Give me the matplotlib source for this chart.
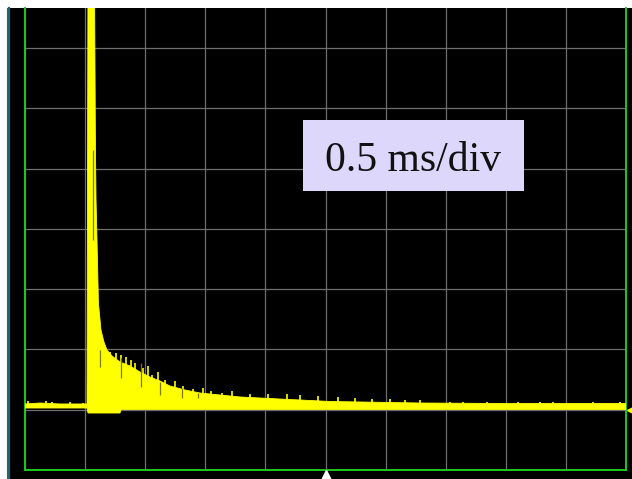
import matplotlib
matplotlib.use('Agg')
import matplotlib.pyplot as plt
from matplotlib.patches import Rectangle
from matplotlib.lines import Line2D

W, H = 632, 479

# time in ms (0.5 ms/div, 10 div), level in divisions (8 div, top is cut off)
upper_t = [0.000, 0.125, 0.291, 0.516, 0.524, 0.578, 0.586, 0.591, 0.599,
           0.611, 0.632, 0.657, 0.682, 0.724, 0.790, 0.874, 0.957, 1.040, 1.123,
           1.206, 1.331, 1.456, 1.622, 1.789, 1.955, 2.121, 2.288, 2.537, 2.787,
           3.286, 3.952, 5.000]
upper_v = [-2.905, -2.889, -2.905, -2.905, 4.200, 4.200, 1.357, 0.478, -0.186,
           -1.231, -1.678, -1.877, -2.010, -2.109, -2.209, -2.275, -2.375, -2.458, -2.524,
           -2.607, -2.673, -2.723, -2.756, -2.789, -2.806, -2.823, -2.839, -2.864, -2.872,
           -2.889, -2.897, -2.897]
lower_t = [0.000, 0.516, 0.524, 0.790, 0.800, 5.000]
lower_v = [-2.972, -2.972, -3.055, -3.055, -2.997, -2.997]

# noise spikes above the envelope
spike_t = [0.025, 0.175, 0.225, 0.374, 0.483, 0.657, 0.707, 0.757, 0.799, 0.840,
           0.882, 0.915, 0.982, 1.023, 1.057, 1.107, 1.165, 1.248, 1.314, 1.398,
           1.481, 1.547, 1.639, 1.722, 1.872, 2.022, 2.180, 2.288, 2.438, 2.604,
           2.745, 2.887, 3.037, 3.161, 3.286, 3.536, 3.644, 3.844, 4.101, 4.285,
           4.393, 4.725, 4.950]
spike_v = [-2.856, -2.856, -2.872, -2.872, -2.889, -1.977, -2.043, -2.060, -2.093, -2.126,
           -2.176, -2.226, -2.308, -2.275, -2.425, -2.375, -2.507, -2.524, -2.607, -2.657,
           -2.640, -2.690, -2.723, -2.690, -2.740, -2.740, -2.740, -2.756, -2.773, -2.789,
           -2.798, -2.823, -2.823, -2.839, -2.839, -2.864, -2.864, -2.864, -2.864, -2.864,
           -2.864, -2.864, -2.864]

# darker gaps inside the trace
gap_t = [0.562, 0.624, 0.799, 0.965, 1.123, 1.306, 1.439]
gap_lo = [-0.186, -2.292, -2.474, -2.624, -2.756, -2.806, -2.806]
gap_hi = [1.307, -2.010, -2.143, -2.226, -2.541, -2.640, -2.723]

fig = plt.figure(figsize=(W / 100, H / 100), dpi=100)
fig.patch.set_facecolor('white')

# black screen area and left edge strips
fig.add_artist(Rectangle((7 / W, 0), (W - 7) / W, (H - 8) / H,
                         transform=fig.transFigure, facecolor='black',
                         edgecolor='none', zorder=-5))
fig.add_artist(Line2D([6.5 / W, 6.5 / W], [0, (H - 8) / H], transform=fig.transFigure,
                      color='#4c5866', lw=0.8, zorder=-4))
fig.add_artist(Line2D([9 / W, 9 / W], [0, (H - 8) / H], transform=fig.transFigure,
                      color='#1b6677', lw=1.6, zorder=-4))

ax = fig.add_axes([25 / W, 9 / H, 601 / W, 462 / H])
ax.set_facecolor('black')
ax.set_xlim(0, 5)
ax.set_ylim(-4, 3.662)
ax.set_xticks([0.5 * i for i in range(11)])
ax.set_yticks(range(-4, 4))
ax.tick_params(length=0, labelbottom=False, labelleft=False)
ax.grid(True, color='#6e6e6e', lw=0.9)
ax.set_axisbelow(True)
for side in ['left', 'right', 'bottom']:
    ax.spines[side].set_color('#1ec81e')
    ax.spines[side].set_linewidth(1.4)
ax.spines['top'].set_visible(False)

xs = upper_t + lower_t[::-1]
ys = upper_v + lower_v[::-1]
ax.fill(xs, ys, color='#ffff00', lw=0.6, zorder=3)
ax.vlines(spike_t, -2.95, spike_v, color='#ffff00', lw=1.2, zorder=3)
ax.vlines(gap_t, gap_lo, gap_hi, color='#7a7a00', lw=0.9, zorder=4)

# trigger marker and ground level marker
ax.plot([2.5], [-4.09], marker='^', color='white', markersize=7, clip_on=False, zorder=5)
ax.plot([5.04], [-3.0], marker='<', color='#ffff00', markersize=6, clip_on=False, zorder=5)

# time base label
fig.add_artist(Rectangle((303 / W, 1 - 191 / H), 221 / W, 71 / H,
                         transform=fig.transFigure, facecolor='#dcd7fb',
                         edgecolor='none', zorder=6))
fig.text(413 / W, 1 - 171 / H, '0.5 ms/div', ha='center', va='baseline',
         fontsize=30, family='Liberation Serif', color='#111111', zorder=7)

fig.savefig('out.png', dpi=100, facecolor='white')
